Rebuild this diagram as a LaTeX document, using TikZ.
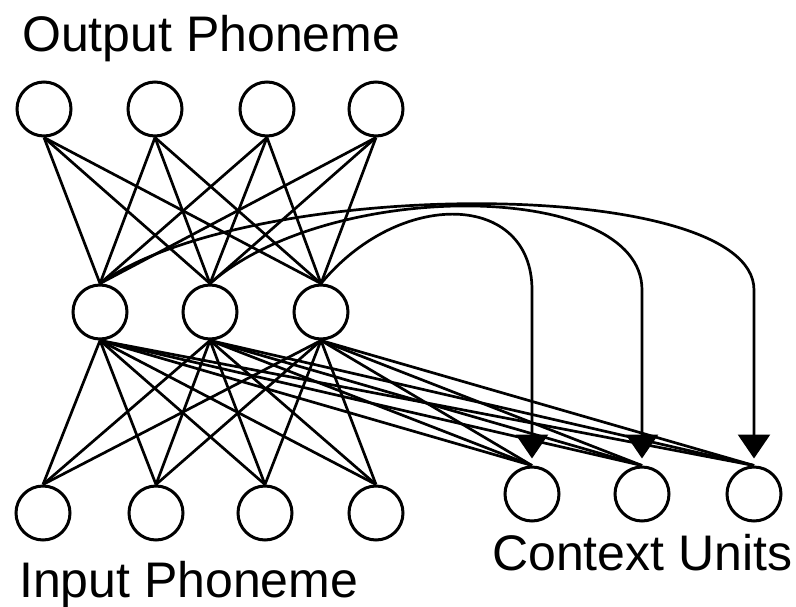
\documentclass[tikz,border=0pt]{standalone}
\usepackage{fontspec}
\setmainfont{Liberation Sans}
\usetikzlibrary{arrows.meta}
\begin{document}
\begin{tikzpicture}[x=1pt,y=-1pt,
  unit/.style={circle,draw,line width=3pt,minimum size=54pt,inner sep=0pt},
  link/.style={line width=2.7pt},
  feedback/.style={line width=2.7pt,-{Triangle[length=24pt,width=32pt]}},
  caption/.style={anchor=base west,inner sep=0pt,font=\fontsize{50}{56}\selectfont}]
\useasboundingbox (0,0) rectangle (796,606);

% output layer
\node[unit] (o1) at (44,109) {};
\node[unit] (o2) at (155,109) {};
\node[unit] (o3) at (267,109) {};
\node[unit] (o4) at (376,109) {};
% hidden layer
\node[unit] (h1) at (100,312) {};
\node[unit] (h2) at (210,312) {};
\node[unit] (h3) at (321,312) {};
% input layer
\node[unit] (i1) at (43,513) {};
\node[unit] (i2) at (156,513) {};
\node[unit] (i3) at (265,513) {};
\node[unit] (i4) at (376,513) {};
% context units
\node[unit] (c1) at (532,494) {};
\node[unit] (c2) at (642,494) {};
\node[unit] (c3) at (754,494) {};

% full connections between layers
\foreach \h in {h1,h2,h3}{
  \foreach \o in {o1,o2,o3,o4}{\draw[link] (\o.south) -- (\h.north);}
  \foreach \i in {i1,i2,i3,i4}{\draw[link] (\i.north) -- (\h.south);}
  \foreach \c in {c1,c2,c3}{\draw[link] (\h.south) -- (\c.north);}
}

% copy-back connections from hidden to context units
\draw[feedback] (h3.north) .. controls (400,188) and (532,192) .. (532,290) -- ([yshift=7pt]c1.north);
\draw[feedback] (h2.north) .. controls (330,178) and (642,180) .. (642,290) -- ([yshift=7pt]c2.north);
\draw[feedback] (h1.north) .. controls (250,176) and (754,176) .. (754,290) -- ([yshift=7pt]c3.north);

% labels
\node[caption] (lout) at (22,51) {Output Phoneme};
\node[caption] (lin) at (19,597) {Input Phoneme};
\node[caption] (lctx) at (492,570) {Context Units};
\end{tikzpicture}
\end{document}
